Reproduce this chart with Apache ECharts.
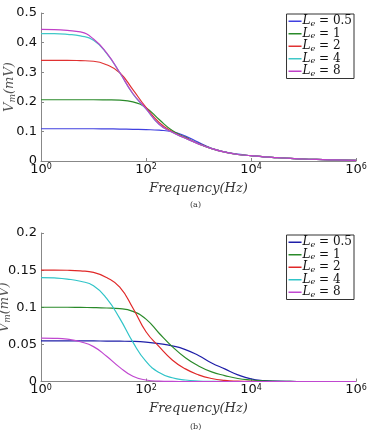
<!DOCTYPE html>
<html>
<head>
<meta charset="utf-8">
<script src="https://cdn.jsdelivr.net/npm/echarts@6/dist/echarts.min.js"></script>
<style>
  html, body { margin: 0; padding: 0; background: #fff; }
  #chart { width: 370px; height: 430px; }
</style>
</head>
<body>
<div id="chart"></div>
<script>
// log10 of frequency (Hz), shared by every curve
const logFreq = [0, 0.25, 0.5, 0.75, 1, 1.25, 1.5, 1.75, 2, 2.25, 2.5, 2.75, 3,
  3.25, 3.5, 3.75, 4, 4.25, 4.5, 4.75, 5, 5.25, 5.5, 5.75, 6];
const lengths = ['0.5', '1', '2', '4', '8'];

// (a) Vm in mV
const a05 = [0.109, 0.109, 0.109, 0.109, 0.109, 0.1085, 0.108, 0.107, 0.106, 0.104, 0.099, 0.084, 0.063,
  0.043, 0.031, 0.023, 0.018, 0.014, 0.0115, 0.009, 0.0068, 0.0052, 0.004, 0.003, 0.002];
const a1 = [0.207, 0.207, 0.207, 0.207, 0.207, 0.2065, 0.2055, 0.2, 0.18, 0.14, 0.103, 0.08, 0.059,
  0.042, 0.030, 0.022, 0.018, 0.014, 0.0115, 0.009, 0.0068, 0.0052, 0.004, 0.003, 0.002];
const a2 = [0.340, 0.340, 0.340, 0.339, 0.337, 0.325, 0.298, 0.241, 0.181, 0.13, 0.099, 0.078, 0.058,
  0.042, 0.030, 0.022, 0.018, 0.014, 0.0115, 0.009, 0.0068, 0.0052, 0.004, 0.003, 0.002];
const a4 = [0.430, 0.430, 0.428, 0.423, 0.408, 0.364, 0.298, 0.227, 0.176, 0.124, 0.097, 0.077, 0.058,
  0.042, 0.030, 0.022, 0.018, 0.014, 0.0115, 0.009, 0.0068, 0.0052, 0.004, 0.003, 0.002];
const a8 = [0.445, 0.444, 0.441, 0.436, 0.412, 0.365, 0.299, 0.228, 0.177, 0.124, 0.097, 0.077, 0.058,
  0.042, 0.030, 0.022, 0.018, 0.014, 0.0115, 0.009, 0.0068, 0.0052, 0.004, 0.003, 0.002];

// (b) Vm in mV
const b05 = [0.0548, 0.0548, 0.0548, 0.0547, 0.0546, 0.0545, 0.0543, 0.054, 0.053, 0.051, 0.048, 0.043, 0.035,
  0.025, 0.017, 0.009, 0.0035, 0.0012, 0.0004, 0.0001, 0, 0, 0, 0, 0];
const b1 = [0.1, 0.1, 0.1, 0.0998, 0.0995, 0.099, 0.0982, 0.0945, 0.084, 0.065, 0.047, 0.032, 0.021,
  0.013, 0.008, 0.004, 0.002, 0.0008, 0.0003, 0.0001, 0, 0, 0, 0, 0];
const b2 = [0.150, 0.150, 0.1498, 0.149, 0.147, 0.140, 0.127, 0.099, 0.067, 0.047, 0.029, 0.017, 0.009,
  0.004, 0.0015, 0.0005, 0.0001, 0, 0, 0, 0, 0, 0, 0, 0];
const b4 = [0.140, 0.1395, 0.138, 0.135, 0.129, 0.112, 0.085, 0.053, 0.027, 0.012, 0.005, 0.002, 0.0007,
  0.0002, 0, 0, 0, 0, 0, 0, 0, 0, 0, 0, 0];
const b8 = [0.0585, 0.0582, 0.057, 0.0535, 0.047, 0.034, 0.019, 0.007, 0.002, 0.0005, 0.0001, 0,
  0, 0, 0, 0, 0, 0, 0, 0, 0, 0, 0, 0, 0];

const seriesA = [a05, a1, a2, a4, a8];
const seriesB = [b05, b1, b2, b4, b8];
const colorsA = ['#4040e0', '#2a8a2a', '#e03232', '#40c8c8', '#c040c8'];
const colorsB = ['#1e1ea8', '#2a8a2a', '#e02828', '#30c4c8', '#c048d0'];

const serif = 'DejaVu Serif';
const sans = 'DejaVu Sans';

const chart = echarts.init(document.getElementById('chart'));

function makeSeries(panel, data, colors, idx) {
  return data.map((vals, i) => ({
    name: panel + ':' + lengths[i],
    type: 'line',
    xAxisIndex: idx,
    yAxisIndex: idx,
    data: logFreq.map((x, j) => [x, vals[j]]),
    showSymbol: false,
    smooth: 0.5,
    lineStyle: { width: 1.2, color: colors[i] },
    itemStyle: { color: colors[i] },
    z: 2 + i,
  }));
}

function makeX(idx) {
  return {
    type: 'value', gridIndex: idx, min: 0, max: 6, interval: 2,
    axisLine: { lineStyle: { color: '#888', width: 1 } },
    axisTick: { inside: true, length: 3, lineStyle: { color: '#888' } },
    splitLine: { show: false },
    axisLabel: {
      margin: 2,
      formatter: v => '{b|10}{s|' + v + '}',
      rich: {
        b: { fontFamily: sans, fontSize: 13, color: '#111', lineHeight: 13, padding: [5, 0, 0, 0], verticalAlign: 'bottom' },
        s: { fontFamily: sans, fontSize: 8, color: '#111', lineHeight: 8, verticalAlign: 'top' },
      },
    },
    name: 'Frequency(Hz)',
    nameLocation: 'middle',
    nameGap: 21,
    nameMoveOverlap: false,
    nameTextStyle: { fontFamily: serif, fontStyle: 'italic', fontSize: 13, color: '#333' },
  };
}

function makeY(idx, max, interval, gap) {
  return {
    type: 'value', gridIndex: idx, min: 0, max: max, interval: interval,
    axisLine: { show: true, lineStyle: { color: '#888', width: 1 } },
    axisTick: { show: true, inside: true, length: 3, lineStyle: { color: '#888' } },
    splitLine: { show: false },
    axisLabel: { fontFamily: sans, fontSize: 13, color: '#111', margin: 4 },
    name: '{v|V}{m|m}{p|(mV)}',
    nameLocation: 'middle',
    nameRotate: 90,
    nameGap: gap,
    nameMoveOverlap: false,
    nameTextStyle: {
      rich: {
        v: { fontFamily: serif, fontStyle: 'italic', fontSize: 13, color: '#555', lineHeight: 14, verticalAlign: 'top' },
        m: { fontFamily: serif, fontStyle: 'italic', fontSize: 9, color: '#555', lineHeight: 6, verticalAlign: 'bottom' },
        p: { fontFamily: serif, fontStyle: 'italic', fontSize: 13, color: '#555', lineHeight: 14, verticalAlign: 'top' },
      },
    },
  };
}

function makeLegend(panel, top) {
  return {
    data: lengths.map(l => panel + ':' + l),
    orient: 'vertical',
    right: 16,
    top: top,
    itemWidth: 13,
    itemHeight: 1.5,
    itemGap: 0,
    icon: 'rect',
    padding: [1, 2, 1, 2],
    backgroundColor: '#fff',
    borderColor: '#333',
    borderWidth: 1,
    borderRadius: 0,
    selectedMode: false,
    formatter: name => '{L|L}{e|e}{t| = ' + name.split(':')[1] + '}',
    textStyle: {
      padding: [0, 0, 0, -4],
      rich: {
        L: { fontFamily: serif, fontStyle: 'italic', fontSize: 12, color: '#111', lineHeight: 12.5, verticalAlign: 'top' },
        e: { fontFamily: serif, fontStyle: 'italic', fontSize: 8, color: '#111', lineHeight: 5, verticalAlign: 'bottom' },
        t: { fontFamily: serif, fontSize: 12, color: '#111', lineHeight: 12.5, verticalAlign: 'top' },
      },
    },
  };
}

chart.setOption({
  backgroundColor: '#fff',
  animation: false,
  grid: [
    { left: 41, right: 14, top: 13, height: 148, outerBoundsMode: 'none', containLabel: false },
    { left: 41, right: 14, top: 233, height: 148.5, outerBoundsMode: 'none', containLabel: false },
  ],
  xAxis: [makeX(0), makeX(1)],
  yAxis: [makeY(0, 0.5, 0.1, 24), makeY(1, 0.2, 0.05, 29)],
  legend: [makeLegend('a', 14), makeLegend('b', 235)],
  graphic: [
    { type: 'text', left: 190, top: 201, style: { text: '(a)', fontFamily: serif, fontSize: 8, fill: '#333' } },
    { type: 'text', left: 190, top: 423, style: { text: '(b)', fontFamily: serif, fontSize: 8, fill: '#333' } },
  ],
  series: [...makeSeries('a', seriesA, colorsA, 0), ...makeSeries('b', seriesB, colorsB, 1)],
});
</script>
</body>
</html>
